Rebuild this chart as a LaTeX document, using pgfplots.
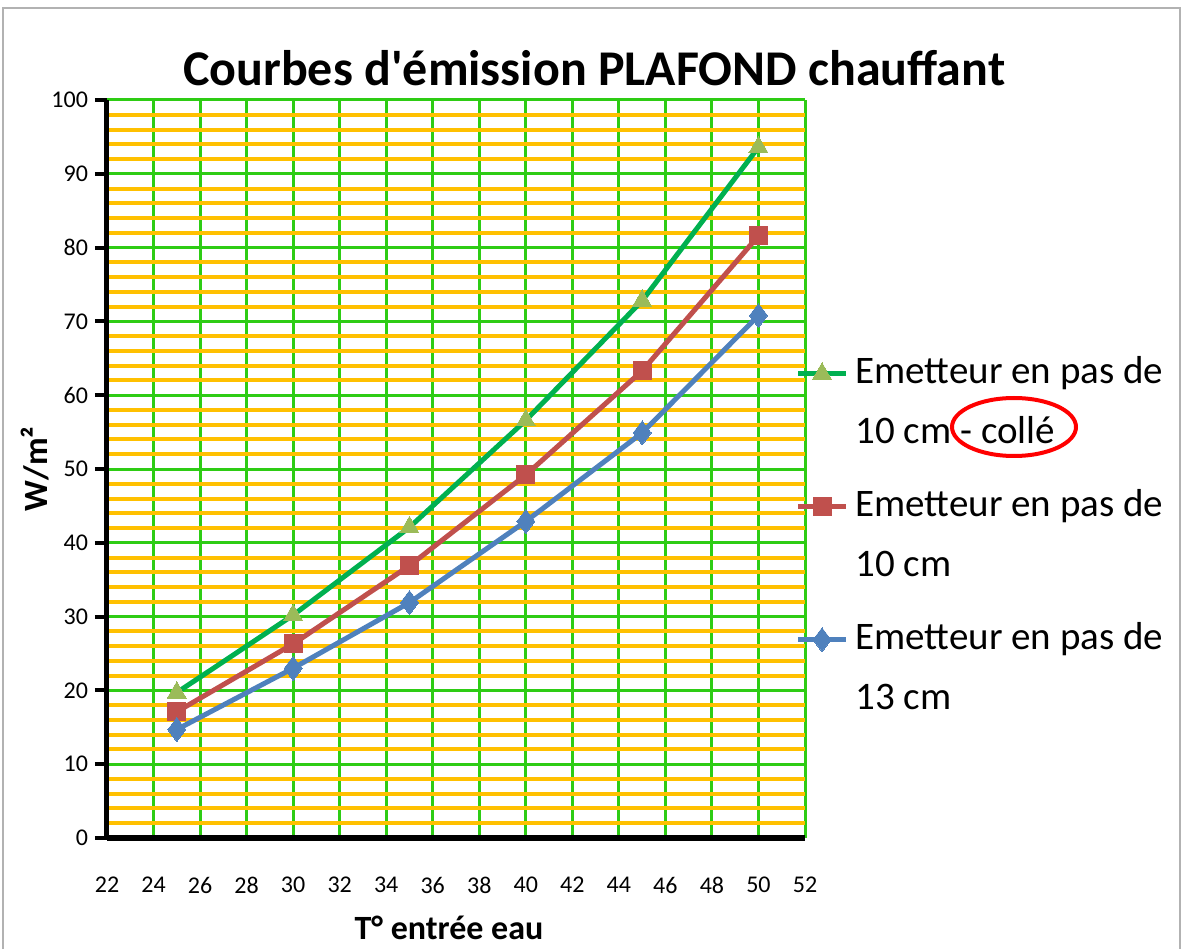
\documentclass[border=0pt]{standalone}
\usepackage{pgfplots}
\pgfplotsset{compat=1.18}
\usepackage{fontspec}
\setmainfont{Carlito}
\definecolor{gridgreen}{RGB}{46,204,20}
\definecolor{gridorange}{RGB}{255,192,0}
\definecolor{sgreenline}{RGB}{0,176,80}
\definecolor{sgreenfill}{RGB}{155,187,89}
\definecolor{sred}{RGB}{192,80,77}
\definecolor{sblue}{RGB}{79,129,189}
\newcommand\lA{\rule[-9pt]{0pt}{30pt}}
\newcommand\lB{\rule[-15.5pt]{0pt}{36.5pt}}
\begin{document}
\begin{tikzpicture}
\path[use as bounding box] (0,0) rectangle (591.5pt,474.5pt);
\draw[gray!60, line width=0.8pt] (1.5pt,0) -- (1.5pt,470.5pt) -- (590pt,470.5pt) -- (590pt,0);
\begin{axis}[
  at={(53.5pt,55.5pt)}, anchor=south west,
  scale only axis, width=349pt, height=369pt,
  xmin=22, xmax=52, ymin=0, ymax=100,
  xtick={22,24,...,52}, ytick={0,10,...,100},
  minor y tick num=4,
  axis x line*=bottom, axis y line*=left,
  axis line style={black, line width=2.5pt, -},
  x axis line style={line width=3pt},
  tick align=outside,
  major tick length=6pt,
  ytick style={black, line width=2pt},
  xtick style={draw=none},
  minor tick style={draw=none},
  grid=both,
  major grid style={gridgreen, line width=1.5pt},
  minor grid style={gridorange, line width=2pt},
  /pgf/number format/assume math mode=true,
  ticklabel style={font=\fontsize{12}{14}\selectfont},
  xticklabel style={yshift=-10pt},
  xlabel={T° entrée eau},
  ylabel={W/m²},
  xlabel style={font=\fontsize{17}{20}\selectfont\bfseries, at={(axis description cs:0.49,0)}, anchor=center, yshift=-45pt},
  ylabel style={font=\fontsize{17}{20}\selectfont\bfseries, at={(axis description cs:-0.103,0.5)}, anchor=center},
  title={Courbes d\textquotesingle émission PLAFOND chauffant},
  title style={font=\fontsize{25}{30}\selectfont\bfseries, at={(axis description cs:0.698,1)}, anchor=base, yshift=1pt},
  clip=false,
  legend image code/.code={
    \draw[mark repeat=2,mark phase=2] plot coordinates {(0cm,5pt)(0.42cm,5pt)(0.84cm,5pt)};},
  legend style={draw=none, fill=none, at={(axis description cs:0.986,0.673)}, anchor=north west,
    font=\fontsize{19.5}{24}\selectfont, row sep=0pt, column sep=3.5pt, inner xsep=0pt, inner ysep=0pt,
    nodes={text depth={}, inner sep=0pt}},
  legend cell align=left,
  legend style={cells={anchor=base west}},
]
\addplot[sgreenline, line width=2.5pt, mark=triangle*, mark size=5.5pt, mark options={fill=sgreenfill, draw=sgreenfill, line width=0pt}]
  coordinates {(25,19.7) (30,30.2) (35,42.1) (40,56.6) (45,72.8) (50,93.6)};
\addlegendentry{\lA Emetteur en pas de}
\addlegendimage{empty legend}
\addlegendentry{\lB 10 cm - collé}
\addplot[sred, line width=2.5pt, mark=square*, mark size=4.5pt, mark options={fill=sred, line width=0pt}]
  coordinates {(25,17.1) (30,26.3) (35,36.9) (40,49.2) (45,63.3) (50,81.6)};
\addlegendentry{\lA Emetteur en pas de}
\addlegendimage{empty legend}
\addlegendentry{\lB 10 cm}
\addplot[sblue, line width=2.5pt, mark=diamond*, mark size=6pt, mark options={fill=sblue, line width=0pt}]
  coordinates {(25,14.7) (30,23.0) (35,31.9) (40,42.9) (45,54.9) (50,70.8)};
\addlegendentry{\lA Emetteur en pas de}
\addlegendimage{empty legend}
\addlegendentry{\lA 13 cm}
\end{axis}
\draw[red, line width=2pt] (507pt,261pt) ellipse [x radius=31pt, y radius=14.5pt];
\end{tikzpicture}
\end{document}
